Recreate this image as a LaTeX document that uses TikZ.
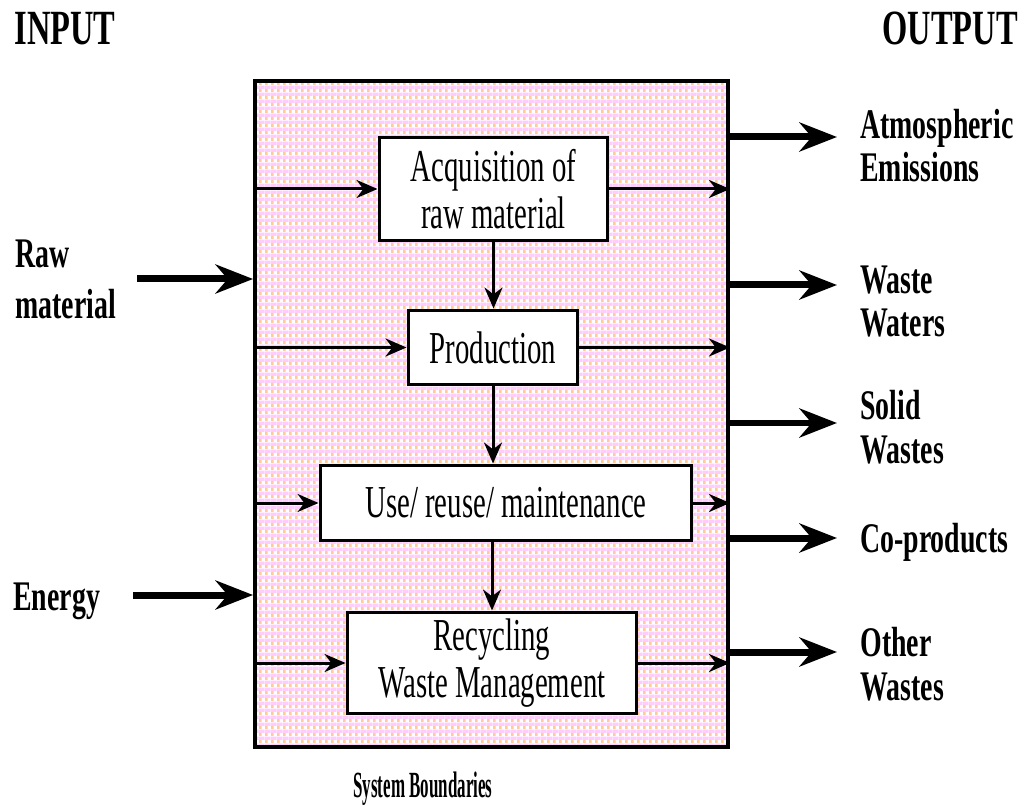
\documentclass[tikz,border=0pt]{standalone}
\usepackage{fontspec}
\setmainfont{Liberation Serif}
\newfontfamily\boxfont{Liberation Serif}[FakeStretch=0.63]
\newfontfamily\lblfont{Liberation Serif}[FakeStretch=0.66]
\newfontfamily\headfont{Liberation Serif}[FakeStretch=0.66]
\newfontfamily\sysfont{Liberation Serif}[FakeStretch=0.46]
\usetikzlibrary{arrows.meta,positioning,patterns.meta}
\definecolor{syspink}{RGB}{255,204,255}
\definecolor{sysorange}{RGB}{255,204,153}
\pgfdeclarepattern{
	name=sysweave,
	type=colored,
	bottom left={\pgfpoint{0pt}{0pt}},
	top right={\pgfpoint{3.2pt}{4.1pt}},
	tile size={\pgfpoint{3.2pt}{4.1pt}},
	code={
		\pgfsetfillcolor{white}
		\pgfpathrectangle{\pgfpointorigin}{\pgfpoint{3.2pt}{4.1pt}}
		\pgfusepath{fill}
		\pgfsetfillcolor{syspink}
		\pgfpathrectangle{\pgfpoint{0pt}{2.05pt}}{\pgfpoint{3.2pt}{2.05pt}}
		\pgfusepath{fill}
		\pgfsetfillcolor{sysorange}
		\pgfpathrectangle{\pgfpoint{0pt}{0pt}}{\pgfpoint{1.6pt}{2.05pt}}
		\pgfusepath{fill}
	}
}
\tikzset{
	procbox/.style={draw, line width=0.06cm, fill=white, align=center, inner sep=0pt, font=\boxfont\fontsize{26}{27}\selectfont},
	flowarrow/.style={line width=0.06cm, -{Stealth[length=0.42cm,width=0.36cm]}},
	bigarrow/.style={line width=0.14cm, -{Stealth[length=0.75cm,width=0.58cm]}},
	lbl/.style={inner sep=0pt, align=left, font=\lblfont\bfseries\fontsize{24}{25}\selectfont},
	headlbl/.style={inner sep=0pt, font=\headfont\bfseries\fontsize{28}{32}\selectfont}
}
\begin{document}
\begin{tikzpicture}[x=0.02cm, y=-0.02cm]
	\useasboundingbox (0,0) rectangle (1024,807);
	
	\node[draw, line width=0.08cm, pattern=sysweave, minimum width=9.46cm, minimum height=13.32cm, inner sep=0pt] (sys) at (491.5,414) {};
	
	\node[procbox, minimum width=4.58cm, minimum height=2.08cm] (acq) at (493.5,189) {Acquisition of\\raw material};
	\node[procbox, minimum width=3.4cm, minimum height=1.5cm] (prod) at (493,347.5) {Production};
	\node[procbox, minimum width=7.44cm, minimum height=1.52cm] (use) at (506,503) {Use/ reuse/ maintenance};
	\node[procbox, minimum width=5.8cm, minimum height=2.04cm] (rec) at (492,663) {Recycling\\Waste Management};
	
	\draw[flowarrow] (acq.south) -- (acq.south |- prod.north);
	\draw[flowarrow] (prod.south) -- (prod.south |- use.north);
	\draw[flowarrow] (rec.north |- use.south) -- (rec.north);
	
	\foreach \b in {acq,prod,use,rec} {
		\draw[flowarrow] (sys.west |- \b.west) -- (\b.west);
		\draw[flowarrow] (\b.east) -- (\b.east -| sys.east);
	}
	
	\node[headlbl, anchor=base] (input) at (65,45) {INPUT};
	\node[headlbl, anchor=base] (output) at (950,45) {OUTPUT};
	
	\node[lbl, font=\lblfont\bfseries\fontsize{24}{29.5}\selectfont, anchor=base west] (raw) at (15,319) {Raw\\material};
	\coordinate (rawin) at (137,279);
	\draw[bigarrow] (rawin) -- (rawin -| sys.west);
	
	\node[lbl, anchor=base west] (energy) at (13,610) {Energy};
	\coordinate (enin) at (133,595);
	\draw[bigarrow] (enin) -- (enin -| sys.west);
	
	\foreach \name/\base/\ay/\txt in {atm/182/137/{Atmospheric\\Emissions}, waste/337/285/{Waste\\Waters}, solid/463/423/{Solid\\Wastes}, coprod/552/538/{Co-products}, other/700/652/{Other\\Wastes}} {
		\node[lbl, anchor=base west] (\name) at (860,\base) {\txt};
		\coordinate (\name tip) at (837,\ay);
		\draw[bigarrow] (\name tip -| sys.east) -- (\name tip);
	}
	
	\node[inner sep=0pt, anchor=base west, font=\sysfont\bfseries\fontsize{21}{22}\selectfont] (sysname) at (353,797) {System Boundaries};
\end{tikzpicture}
\end{document}
